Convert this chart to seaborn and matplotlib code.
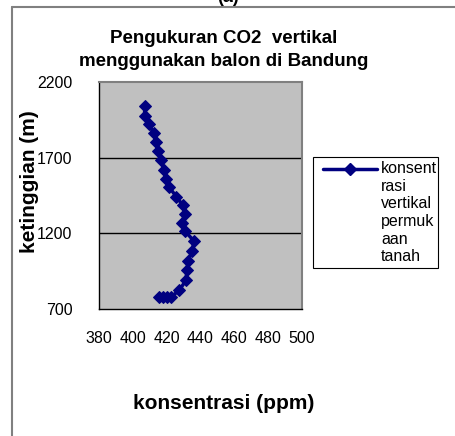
import matplotlib
matplotlib.use("Agg")
import matplotlib.pyplot as plt
import seaborn as sns
import pandas as pd
from matplotlib.lines import Line2D
from matplotlib.patches import Rectangle

konsentrasi = [407.1, 406.9, 409.4, 412.4, 413.8, 414.7, 416.7, 418.2, 419.6, 421.6,
               425.7, 429.6, 431.0, 428.8, 431.0, 436.3, 434.9, 432.8, 432.0, 431.4,
               427.5, 422.6, 420.0, 418.0, 415.5]
ketinggian = [2042, 1976, 1922, 1860, 1801, 1746, 1682, 1621, 1560, 1503,
              1443, 1384, 1327, 1270, 1213, 1147, 1082, 1020, 959, 889,
              825, 779, 780, 778, 780]
x_ticks = [380, 400, 420, 440, 460, 480, 500]
y_ticks = [700, 1200, 1700, 2200]
title = "Pengukuran CO2  vertikal\nmenggunakan balon di Bandung"
series_label = "konsent\nrasi\nvertikal\npermuk\naan\ntanah"

sns.set_style("white")
plt.rcParams['font.family'] = ['Liberation Sans', 'DejaVu Sans']
plt.rcParams['text.color'] = 'black'
plt.rcParams['axes.labelcolor'] = 'black'
plt.rcParams['xtick.color'] = 'black'
plt.rcParams['ytick.color'] = 'black'

df = pd.DataFrame({"ppm": konsentrasi, "h": ketinggian})

fig = plt.figure(figsize=(4.56, 4.36), dpi=100)
ax = fig.add_axes([99/456, 1-309/436, 203/456, 227/436])
ax.set_facecolor("#C0C0C0")

navy = "#000080"
sns.lineplot(data=df, x="ppm", y="h", sort=False, estimator=None, ax=ax,
             color=navy, linewidth=2.5, marker="D", markersize=6.5,
             markeredgecolor=navy, markerfacecolor=navy, legend=False)

ax.set_xlim(380, 500)
ax.set_ylim(700, 2200)
ax.set_xticks(x_ticks)
ax.set_yticks(y_ticks)
ax.set_xticklabels([str(v) for v in x_ticks], fontsize=11.5)
ax.set_yticklabels([str(v) for v in y_ticks], fontsize=11.5)
ax.tick_params(axis="x", direction="out", length=4, width=1, colors="black", pad=12)
ax.tick_params(axis="y", direction="out", length=5, width=1, colors="black", pad=14)
for v in y_ticks[1:-1]:
    ax.axhline(v, color="black", linewidth=1, zorder=1)

for s in ["left", "bottom"]:
    ax.spines[s].set_color("black")
    ax.spines[s].set_linewidth(1)
for s in ["top", "right"]:
    ax.spines[s].set_color("#808080")
    ax.spines[s].set_linewidth(1.5)

ax.set_xlabel("")
ax.set_ylabel("")

fig.text(224/456, 1-50/436, title, ha="center", va="center", fontsize=13.5,
         fontweight="bold", linespacing=1.5)
fig.text(224/456, 1-403/436, "konsentrasi (ppm)", ha="center", va="center",
         fontsize=15, fontweight="bold")
fig.text(30/456, 1-182/436, "ketinggian (m)", ha="center", va="center",
         fontsize=15, fontweight="bold", rotation=90)
fig.text(228/456, 1-2/436, "(a)", ha="center", va="baseline", fontsize=13,
         fontweight="bold")

# legend box drawn manually (handle aligned with first text line, as in reference)
tf = fig.transFigure
fig.add_artist(Rectangle((313/456, 1-268/436), 125/456, 111/436, transform=tf,
                         facecolor="white", edgecolor="black", linewidth=0.8))
ly = 1-169/436
fig.add_artist(Line2D([323/456, 377/456], [ly, ly], transform=tf, color=navy,
                      linewidth=2.5))
fig.add_artist(Line2D([350/456], [ly], transform=tf, color=navy, marker="D",
                      markersize=6, markerfacecolor=navy, markeredgecolor=navy))
fig.text(381/456, 1-161/436, series_label, ha="left", va="top", fontsize=11.5,
         linespacing=1.22)

border_color = "#808080"
fig.add_artist(Line2D([12/456, 12/456], [0, 1-7/436], transform=tf,
                      color=border_color, linewidth=1.5))
fig.add_artist(Line2D([12/456, 1], [1-7/436, 1-7/436], transform=tf,
                      color=border_color, linewidth=1.5))

fig.savefig("out.png", dpi=100, facecolor="white")
